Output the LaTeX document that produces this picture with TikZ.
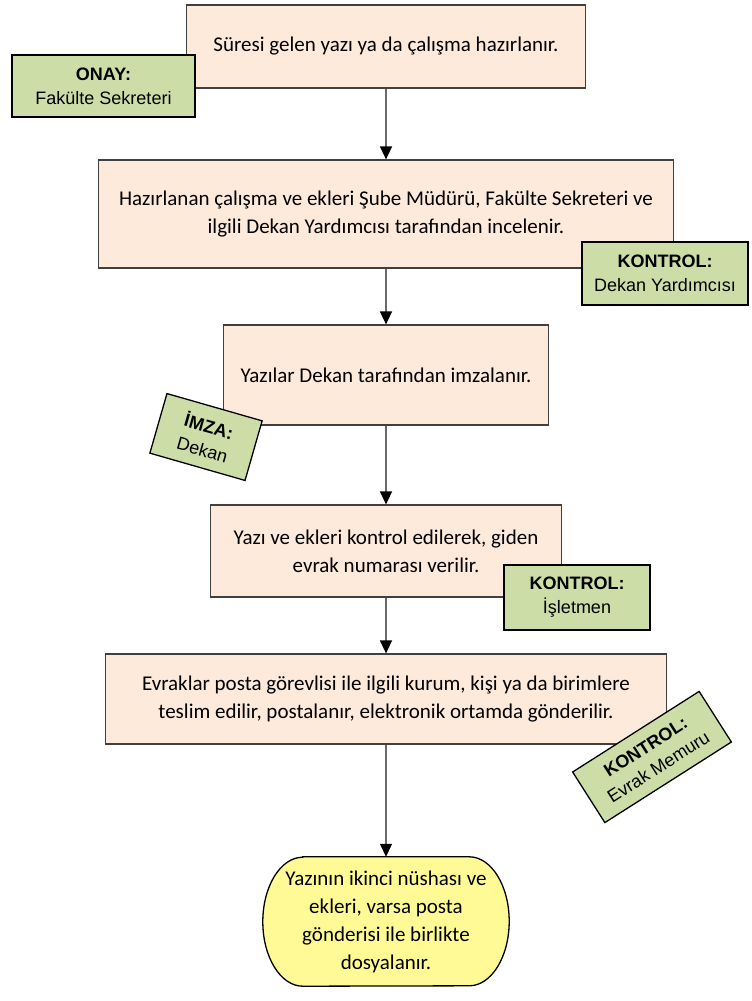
\documentclass[tikz,border=0pt]{standalone}
\usepackage{fontspec}
\setmainfont{Carlito}
\newfontfamily\arialf{Liberation Sans}
\usetikzlibrary{arrows.meta,calc,backgrounds}
\definecolor{pinkf}{HTML}{FDEADA}
\definecolor{greenf}{HTML}{CDDDA8}
\definecolor{yellowf}{HTML}{FFFA96}
\definecolor{boxline}{HTML}{404040}
\definecolor{arrline}{HTML}{6A6A6A}
\newcommand\mymainfont{\fontsize{21}{28}\selectfont}
\newcommand\mylblfont{\arialf\fontsize{18}{24}\selectfont}
\begin{document}
\begin{tikzpicture}[x=1pt,y=1pt,
  proc/.style={draw=boxline, line width=1.2pt, fill=pinkf, align=center, inner sep=0pt, font=\mymainfont},
  lbl/.style={draw=black, line width=1.3pt, fill=greenf, align=center, inner sep=0pt, font=\mylblfont},
  term/.style={align=center, inner sep=0pt, font=\mymainfont},
  arr/.style={draw=arrline, line width=1.3pt, -{Triangle[width=12pt,length=13pt,color=black]}}
]
\useasboundingbox (0,0) rectangle (752,-1001);
% process boxes
\node[proc, minimum width=399pt, minimum height=83pt] (b1) at (386,-46.5) {Süresi gelen yazı ya da çalışma hazırlanır.};
\node[proc, minimum width=575pt, minimum height=108pt] (b2) at (386,-214) {Hazırlanan çalışma ve ekleri Şube Müdürü, Fakülte Sekreteri ve\\ilgili Dekan Yardımcısı tarafından incelenir.};
\node[proc, minimum width=325pt, minimum height=100pt] (b3) at (386,-375) {Yazılar Dekan tarafından imzalanır.};
\node[proc, minimum width=351pt, minimum height=92pt] (b4) at (386,-551) {Yazı ve ekleri kontrol edilerek, giden\\evrak numarası verilir.};
\node[proc, minimum width=561pt, minimum height=90pt] (b5) at (386,-699) {Evraklar posta görevlisi ile ilgili kurum, kişi ya da birimlere\\teslim edilir, postalanır, elektronik ortamda gönderilir.};
\node[term, minimum width=246pt, minimum height=129pt] (e) at (386,-921.5) {Yazının ikinci nüshası ve\\ekleri, varsa posta\\gönderisi ile birlikte\\dosyalanır.};
\begin{scope}[on background layer]
\draw[fill=yellowf, draw=black, line width=1.3pt]
  ($(e.north west)+(40,0)$) -- ($(e.north east)+(-40,0)$)
  arc[start angle=90, end angle=-90, x radius=40, y radius=64.5]
  -- ($(e.south west)+(40,0)$)
  arc[start angle=270, end angle=90, x radius=40, y radius=64.5] -- cycle;
\end{scope}
% connectors
\draw[arr] (b1.south) -- (b2.north);
\draw[arr] (b2.south) -- (b3.north);
\draw[arr] (b3.south) -- (b4.north);
\draw[arr] (b4.south) -- (b5.north);
\draw[arr] (b5.south) -- (e.north);
% labels
\node[lbl, minimum width=183pt, minimum height=62pt] (l1) at (103.5,-86) {\textbf{ONAY:}\\Fakülte Sekreteri};
\node[lbl, minimum width=166pt, minimum height=63pt] (l2) at (665,-273.5) {\textbf{KONTROL:}\\Dekan Yardımcısı};
\node[lbl, minimum width=99pt, minimum height=62pt, rotate=-16] (l3) at (206,-437) {\textbf{İMZA:}\\Dekan};
\node[lbl, minimum width=146pt, minimum height=65pt] (l4) at (577,-597.5) {\textbf{KONTROL:}\\İşletmen};
\node[lbl, minimum width=150pt, minimum height=60pt, rotate=32.5] (l5) at (652,-757) {\textbf{KONTROL:}\\Evrak Memuru};
\end{tikzpicture}
\end{document}
